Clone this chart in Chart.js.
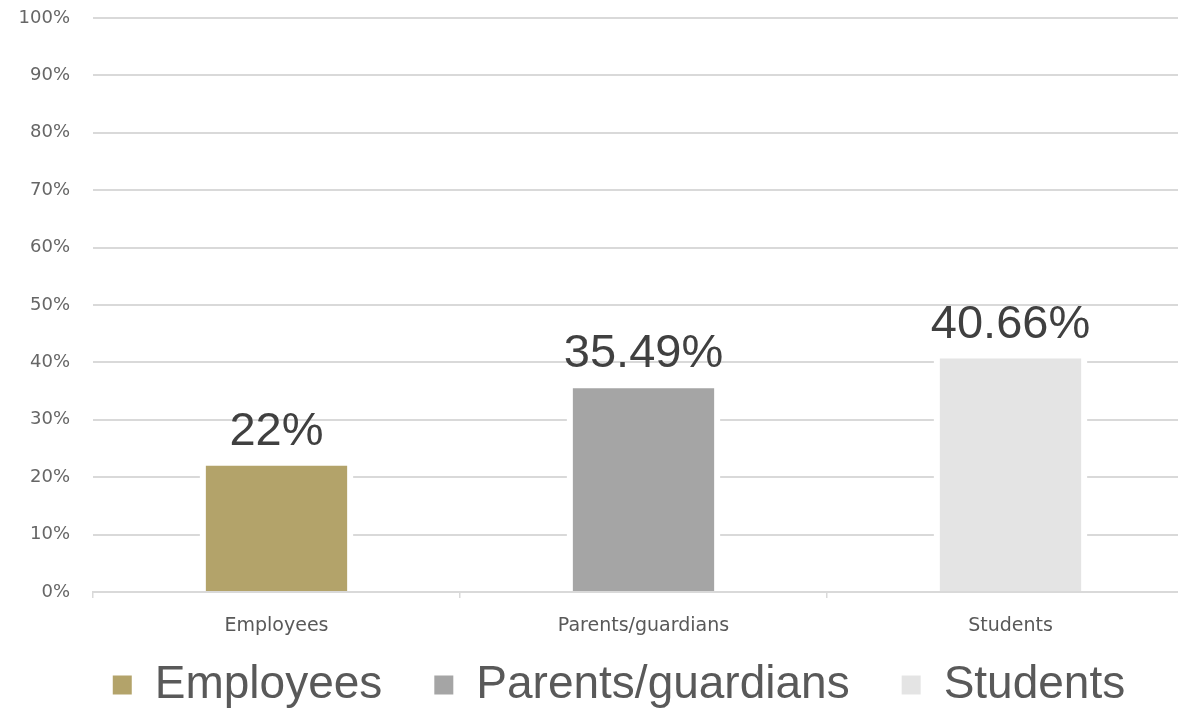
<!DOCTYPE html>
<html>
<head>
<meta charset="utf-8">
<script src="https://cdn.jsdelivr.net/npm/chart.js@4.4.1/dist/chart.umd.min.js"></script>
<style>
  html, body { margin: 0; padding: 0; background: #fff; overflow: hidden; }
  #wrap { width: 1194px; height: 713px; position: relative; }
</style>
</head>
<body>
<div id="wrap"><canvas id="c"></canvas></div>
<script>
const categories = ["Employees", "Parents/guardians", "Students"];
const values = [22, 35.49, 40.66];
const colors = ["#b3a36a", "#a5a5a5", "#e4e4e4"];
const yMin = 0, yMax = 100, yStep = 10;

const datasets = categories.map((name, i) => ({
  label: name,
  data: categories.map((_, j) => (j === i ? values[i] : null)),
  backgroundColor: colors[i],
  borderWidth: 0,
  categoryPercentage: 1,
  barPercentage: 0.385
}));

const barGap = {
  id: 'barGap',
  beforeDatasetsDraw(chart) {
    const ctx = chart.ctx;
    ctx.save();
    ctx.fillStyle = '#ffffff';
    chart.data.datasets.forEach((ds, di) => {
      chart.getDatasetMeta(di).data.forEach((el, k) => {
        if (ds.data[k] == null) return;
        const p = el.getProps(['x', 'y', 'base', 'width'], true);
        ctx.fillRect(p.x - p.width / 2 - 6, p.y - 6, p.width + 12, p.base - p.y + 5);
      });
    });
    ctx.restore();
  }
};

const valueLabels = {
  id: 'valueLabels',
  afterDatasetsDraw(chart) {
    const ctx = chart.ctx;
    ctx.save();
    ctx.font = '47px "Liberation Sans", Arial, sans-serif';
    ctx.fillStyle = '#404040';
    ctx.textAlign = 'center';
    ctx.textBaseline = 'alphabetic';
    chart.data.datasets.forEach((ds, di) => {
      chart.getDatasetMeta(di).data.forEach((el, k) => {
        if (ds.data[k] == null) return;
        const p = el.getProps(['x', 'y'], true);
        ctx.fillText(ds.data[k] + '%', p.x, p.y - 21);
      });
    });
    ctx.restore();
  }
};

// place legend row lower and centred like the original
const legendPlace = {
  id: 'legendPlace',
  afterLayout(chart) {
    const lg = chart.legend;
    if (!lg) return;
    const h = lg.bottom - lg.top;
    lg.top = 610;
    lg.bottom = 610 + h;
    lg.left = 44;
  }
};

new Chart(document.getElementById('c'), {
  type: 'bar',
  data: { labels: categories, datasets },
  plugins: [barGap, valueLabels, legendPlace],
  options: {
    responsive: true,
    maintainAspectRatio: false,
    animation: false,
    layout: { padding: { left: 0, top: 18, right: 0, bottom: -42 } },
    plugins: {
      tooltip: { enabled: false },
      legend: {
        position: 'bottom',
        labels: {
          boxWidth: 19,
          boxHeight: 19,
          padding: 52,
          color: '#595959',
          font: { family: '"Liberation Sans", Arial, sans-serif', size: 46 }
        }
      }
    },
    scales: {
      x: {
        stacked: true,
        offset: true,
        border: { display: true, color: '#d9d9d9', width: 2 },
        grid: { display: true, drawOnChartArea: false, drawTicks: true, tickLength: 6, color: '#d9d9d9', lineWidth: 1.5 },
        ticks: { color: '#595959', padding: 17, maxRotation: 0, autoSkip: false, font: { family: '"DejaVu Sans", sans-serif', size: 19 } },
        afterFit: s => { s.height = 55; s.paddingLeft = 0; s.paddingRight = 0; }
      },
      y: {
        min: yMin,
        max: yMax,
        border: { display: false },
        grid: { color: '#d9d9d9', lineWidth: 2, drawTicks: false },
        ticks: {
          stepSize: yStep,
          color: '#666666',
          padding: 23,
          font: { family: '"DejaVu Sans", sans-serif', size: 18 },
          callback: v => v + '%'
        },
        afterFit: s => { s.width = 93; s.paddingTop = 0; s.paddingBottom = 0; }
      }
    }
  }
});
</script>
</body>
</html>
